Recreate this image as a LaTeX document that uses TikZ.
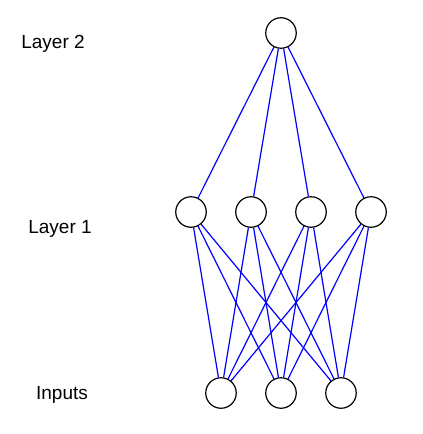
\documentclass[tikz,border=0pt]{standalone}
\usepackage{fontspec}
\setmainfont{Liberation Sans}
\usepackage{tikz}
\tikzstyle{neuron}=[circle, draw=black, line width=1.2pt, minimum size=30.5pt, inner sep=0pt]
\tikzstyle{link}=[line width=1.2pt, color=blue]
\tikzstyle{layername}=[anchor=base, font=\fontsize{19}{23}\selectfont]

\begin{document}
\begin{tikzpicture}[x=1pt, y=-1pt]
\useasboundingbox (0,0) rectangle (423,434);

\node[neuron] (out) at (281,33) {};
\foreach \h/\x in {1/191,2/251,3/311,4/371}
\node[neuron] (h\h) at (\x,212) {};
\foreach \i/\x in {1/221,2/281,3/341}
\node[neuron] (in\i) at (\x,393) {};

\node[layername] (l2) at (53,48) {Layer 2};
\node[layername] (l1) at (60,233) {Layer 1};
\node[layername] (lin) at (62,399) {Inputs};

\foreach \h in {1,...,4}
\draw[link] (out)--(h\h);
\foreach \i in {1,2,3}
\foreach \h in {1,...,4}
\draw[link] (in\i)--(h\h);
\end{tikzpicture}
\end{document}
